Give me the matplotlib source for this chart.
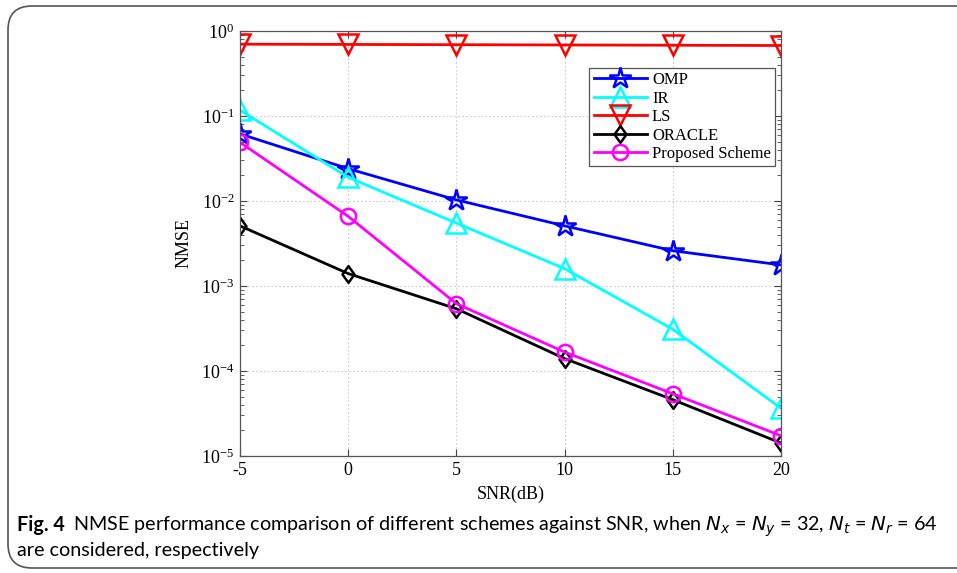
import matplotlib
matplotlib.use("Agg")
import matplotlib.pyplot as plt
from matplotlib.patches import FancyBboxPatch
from matplotlib.path import Path
from matplotlib.ticker import LogLocator, NullFormatter, FixedLocator

snr = [-5, 0, 5, 10, 15, 20]
omp = [0.0616, 0.024, 0.0103, 0.0051, 0.0026, 0.00177]
ir = [0.117, 0.019, 0.0055, 0.0016, 0.00031, 3.65e-5]
ls = [0.70, 0.695, 0.69, 0.685, 0.68, 0.675]
oracle = [0.0051, 0.0014, 0.00054, 0.00014, 4.6e-5, 1.42e-5]
proposed = [0.049, 0.0066, 0.00062, 0.000167, 5.4e-5, 1.73e-5]
labels = ["OMP", "IR", "LS", "ORACLE", "Proposed Scheme"]
xticks = [-5, 0, 5, 10, 15, 20]

plt.rcParams["font.family"] = ["Liberation Serif", "DejaVu Serif"]
plt.rcParams["mathtext.fontset"] = "stix"
plt.rcParams["axes.unicode_minus"] = False

W, H = 957, 573
fig = plt.figure(figsize=(W / 100, H / 100), dpi=100)

border = FancyBboxPatch((8 / W, 5 / H), 1.2, (567 - 5) / H,
                        boxstyle="round,pad=0,rounding_size=0.025",
                        transform=fig.transFigure, fill=False,
                        edgecolor="#555555", lw=1.2, mutation_aspect=W / H)
fig.patches.append(border)

ax = fig.add_axes([240 / W, (H - 456) / H, 541 / W, 425 / H])
ax.set_yscale("log")
ax.set_xlim(-5, 20)
ax.set_ylim(1e-5, 1)

diamond = Path([(0, 1), (0.72, 0), (0, -1), (-0.72, 0), (0, 1)],
               [Path.MOVETO, Path.LINETO, Path.LINETO, Path.LINETO, Path.CLOSEPOLY])

lw = 2.0
mew = 1.8
ax.plot(snr, omp, color="#0000ff", lw=lw, marker="*", ms=16, mfc="none", mec="#0000ff", mew=mew, label=labels[0])
ax.plot(snr, ir, color="#00ffff", lw=lw, marker="^", ms=14, mfc="none", mec="#00ffff", mew=mew, label=labels[1])
ax.plot(snr, ls, color="#ff0000", lw=lw, marker="v", ms=14, mfc="none", mec="#ff0000", mew=mew, label=labels[2])
ax.plot(snr, oracle, color="black", lw=lw, marker=diamond, ms=12, mfc="none", mec="black", mew=mew, label=labels[3])
ax.plot(snr, proposed, color="#ff00ff", lw=lw, marker="o", ms=11, mfc="none", mec="#ff00ff", mew=mew, label=labels[4])

ax.xaxis.set_major_locator(FixedLocator(xticks))
ax.yaxis.set_major_locator(LogLocator(base=10, numticks=10))
ax.yaxis.set_minor_locator(LogLocator(base=10, subs=range(2, 10), numticks=10))
ax.yaxis.set_minor_formatter(NullFormatter())
ax.tick_params(which="both", direction="in", top=True, right=True, labelsize=13, colors="#444444", labelcolor="black")
ax.tick_params(which="major", length=5, pad=4)
ax.tick_params(which="minor", length=3)
for s in ax.spines.values():
    s.set_color("#555555")
    s.set_linewidth(0.9)
ax.grid(True, which="major", linestyle=(0, (1.5, 2)), color="#cccccc", lw=0.8)

ax.set_xlabel("SNR(dB)", fontsize=13, labelpad=5)
ax.set_ylabel("NMSE", fontsize=13, labelpad=6)

leg = ax.legend(loc="upper right", bbox_to_anchor=(1 - 6 / 541, 1 - 37 / 425), fontsize=12,
                fancybox=False, edgecolor="#555555", framealpha=1, borderaxespad=0,
                handlelength=3.2, handletextpad=0.3, labelspacing=0.15, borderpad=0.25)
leg.get_frame().set_linewidth(0.9)

# caption
cap_font = ["Lato", "DejaVu Sans"]
renderer = fig.canvas.get_renderer()
y1 = 1 - 531 / H
y2 = 1 - 556 / H
line1 = "NMSE performance comparison of different schemes against SNR, when $N_x$ = $N_y$ = 32, $N_t$ = $N_r$ = 64"
size = 14.5
while True:
    t1 = fig.text(17 / W, y1, "Fig. 4", fontsize=size, family=cap_font, weight="bold", va="baseline")
    b1 = t1.get_window_extent(renderer)
    t2 = fig.text((b1.x1 + 0.6 * size) / W, y1, line1, fontsize=size, family=cap_font,
                  math_fontfamily="dejavusans", va="baseline")
    b2 = t2.get_window_extent(renderer)
    if b2.x1 <= 949 or size < 9:
        break
    t1.remove()
    t2.remove()
    size -= 0.25
fig.text(17 / W, y2, "are considered, respectively", fontsize=size, family=cap_font, va="baseline")

fig.savefig("out.png", dpi=100)
